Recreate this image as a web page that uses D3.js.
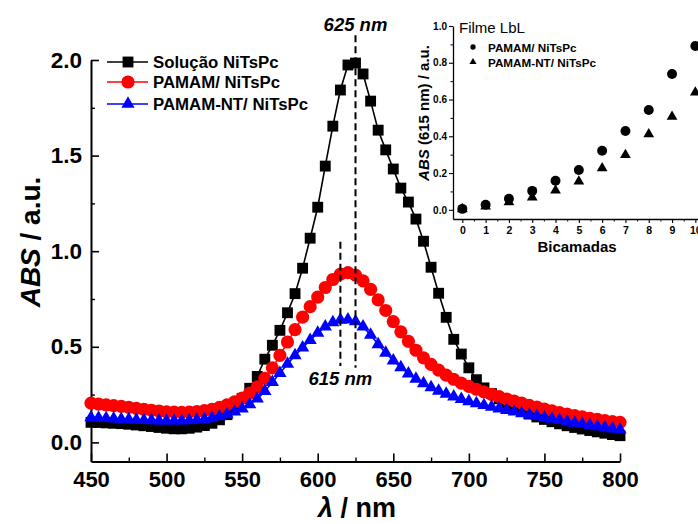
<!DOCTYPE html>
<html>
<head>
<meta charset="utf-8">
<script src="https://cdn.jsdelivr.net/npm/d3@7"></script>
<style>
  html, body { margin: 0; padding: 0; background: #fff; }
  svg { display: block; font-family: "Liberation Sans", Arial, sans-serif; }
</style>
</head>
<body>
<svg id="chart" width="698" height="524"></svg>
<script>
// Wavelength grid (nm)
const wavelengths = [450,455,460,465,470,475,480,485,490,495,500,505,510,515,520,525,530,535,540,545,
  550,555,560,565,570,575,580,585,590,595,600,605,610,615,620,625,630,635,640,645,
  650,655,660,665,670,675,680,685,690,695,700,705,710,715,720,725,730,735,740,745,
  750,755,760,765,770,775,780,785,790,795,800];

// Absorbance spectra
const solucao = [0.105,0.104,0.102,0.100,0.098,0.095,0.091,0.087,0.083,0.078,0.074,0.071,0.071,0.074,0.080,0.088,0.100,0.118,0.145,0.185,
  0.230,0.283,0.345,0.435,0.508,0.586,0.678,0.778,0.911,1.068,1.230,1.445,1.654,1.843,1.974,1.984,1.927,1.785,1.633,1.530,
  1.430,1.330,1.257,1.168,1.052,0.916,0.780,0.654,0.539,0.462,0.390,0.328,0.285,0.255,0.228,0.205,0.185,0.165,0.148,0.133,
  0.120,0.108,0.097,0.087,0.078,0.070,0.062,0.055,0.048,0.041,0.035];
const pamam = [0.205,0.200,0.196,0.192,0.188,0.183,0.178,0.173,0.168,0.164,0.160,0.158,0.157,0.158,0.161,0.166,0.173,0.183,0.196,0.212,
  0.232,0.258,0.290,0.335,0.390,0.455,0.525,0.590,0.655,0.710,0.760,0.810,0.852,0.880,0.888,0.875,0.845,0.800,0.745,0.690,
  0.632,0.578,0.528,0.482,0.442,0.408,0.378,0.352,0.330,0.310,0.293,0.278,0.264,0.251,0.239,0.227,0.216,0.205,0.194,0.184,
  0.174,0.165,0.156,0.148,0.140,0.133,0.126,0.120,0.114,0.109,0.105];
const pamamNT = [0.130,0.128,0.126,0.124,0.122,0.120,0.118,0.116,0.115,0.114,0.113,0.113,0.113,0.115,0.118,0.122,0.128,0.136,0.146,0.160,
  0.176,0.198,0.228,0.268,0.315,0.362,0.410,0.455,0.495,0.535,0.572,0.605,0.628,0.640,0.642,0.632,0.605,0.562,0.512,0.468,
  0.428,0.392,0.360,0.332,0.308,0.287,0.269,0.253,0.239,0.226,0.214,0.204,0.194,0.185,0.176,0.168,0.160,0.152,0.144,0.137,
  0.130,0.123,0.116,0.109,0.102,0.096,0.090,0.084,0.078,0.072,0.067];

const seriesNames = ["Solução NiTsPc", "PAMAM/ NiTsPc", "PAMAM-NT/ NiTsPc"];

// Peak guide lines: wavelength, lower and upper absorbance
const peakWl = [625, 615];
const peakFrom = [0.39, 0.40];
const peakTo = [2.13, 1.05];
const peakLabels = ["625 nm", "615 nm"];

// Inset: absorbance at 615 nm vs number of bilayers
const bilayers = [0,1,2,3,4,5,6,7,8,9,10];
const insetPamam = [0.005,0.027,0.060,0.103,0.158,0.217,0.321,0.429,0.543,0.739,0.891];
const insetPamamNT = [0.004,0.018,0.042,0.067,0.105,0.154,0.226,0.299,0.411,0.507,0.639];
const insetNames = ["PAMAM/ NiTsPc", "PAMAM-NT/ NiTsPc"];

const mainYTicks = [0.0, 0.5, 1.0, 1.5, 2.0];
const mainXTicks = [450, 500, 550, 600, 650, 700, 750, 800];
const insetYTicks = [0.0, 0.2, 0.4, 0.6, 0.8, 1.0];

const svg = d3.select("#chart");
const FONT = "'Liberation Sans', Arial, sans-serif";

// ---------- main plot ----------
const x = d3.scaleLinear().domain([450, 800]).range([91, 620]);
const y = d3.scaleLinear().domain([-0.1, 2.0]).range([461.5, 60]);

const styleAxis = (g, fs) => {
  g.select(".domain").attr("stroke", "#000").attr("stroke-width", 2);
  g.selectAll(".tick line").attr("stroke", "#000").attr("stroke-width", 1.6);
  g.selectAll("text").attr("font-family", FONT).attr("font-weight", "bold")
    .attr("font-size", fs).attr("fill", "#000");
};

// minor ticks
svg.append("g").attr("transform", "translate(0,461.5)")
  .call(d3.axisBottom(x).tickValues(d3.range(475, 800, 50)).tickSize(-4).tickFormat(""))
  .call(g => { g.select(".domain").remove(); g.selectAll("line").attr("stroke", "#000").attr("stroke-width", 1.4); });
svg.append("g").attr("transform", "translate(91,0)")
  .call(d3.axisLeft(y).tickValues([0.25, 0.75, 1.25, 1.75]).tickSize(-4).tickFormat(""))
  .call(g => { g.select(".domain").remove(); g.selectAll("line").attr("stroke", "#000").attr("stroke-width", 1.4); });

svg.append("g").attr("transform", "translate(0,461.5)")
  .call(d3.axisBottom(x).tickValues(mainXTicks).tickSizeInner(-8).tickSizeOuter(0).tickPadding(10).tickFormat(d3.format("d")))
  .call(g => styleAxis(g, 22));
svg.append("g").attr("transform", "translate(91,0)")
  .call(d3.axisLeft(y).tickValues(mainYTicks).tickSizeInner(-8).tickSizeOuter(0).tickPadding(9).tickFormat(d3.format(".1f")))
  .call(g => styleAxis(g, 22.5));

// axis titles
const yTitle = svg.append("text")
  .attr("transform", "translate(40,242) rotate(-90)")
  .attr("text-anchor", "middle").attr("font-family", FONT).attr("font-weight", "bold")
  .attr("font-size", 28).attr("fill", "#000");
yTitle.append("tspan").attr("font-style", "italic").text("ABS");
yTitle.append("tspan").text(" / a.u.");

const xTitle = svg.append("text")
  .attr("x", 357).attr("y", 517)
  .attr("text-anchor", "middle").attr("font-family", FONT).attr("font-weight", "bold")
  .attr("font-size", 27).attr("fill", "#000");
xTitle.append("tspan").attr("font-style", "italic").text("λ");
xTitle.append("tspan").text(" / nm");

// series
const colors = ["#000000", "#ff0000", "#0000ff"];
const symbols = [
  d3.symbol().type(d3.symbolSquare).size(118),
  d3.symbol().type(d3.symbolCircle).size(136),
  d3.symbol().type(d3.symbolTriangle).size(76)
];
const allSeries = [solucao, pamam, pamamNT];

const line = d3.line().x(d => x(d[0])).y(d => y(d[1]));
allSeries.forEach((vals, i) => {
  const pts = wavelengths.map((w, j) => [w, vals[j]]);
  const g = svg.append("g");
  g.append("path").datum(pts).attr("d", line)
    .attr("fill", "none").attr("stroke", colors[i]).attr("stroke-width", 1.6);
  g.selectAll("path.m").data(pts).join("path").attr("class", "m")
    .attr("transform", d => `translate(${x(d[0])},${y(d[1])})`)
    .attr("d", symbols[i]()).attr("fill", colors[i]);
});

// peak guide lines
peakWl.forEach((w, i) => {
  svg.append("line")
    .attr("x1", x(w)).attr("x2", x(w))
    .attr("y1", y(peakTo[i])).attr("y2", y(peakFrom[i]))
    .attr("stroke", "#000").attr("stroke-width", 2).attr("stroke-dasharray", "7,4");
});
svg.append("text").attr("x", x(peakWl[0])).attr("y", 31)
  .attr("text-anchor", "middle").attr("font-family", FONT).attr("font-weight", "bold")
  .attr("font-style", "italic").attr("font-size", 18.5).text(peakLabels[0]);
svg.append("text").attr("x", x(peakWl[1])).attr("y", 385)
  .attr("text-anchor", "middle").attr("font-family", FONT).attr("font-weight", "bold")
  .attr("font-style", "italic").attr("font-size", 18.5).text(peakLabels[1]);

// legend
const legendY = [62, 82, 104];
seriesNames.forEach((name, i) => {
  const g = svg.append("g");
  g.append("line").attr("x1", 107).attr("x2", 148).attr("y1", legendY[i]).attr("y2", legendY[i])
    .attr("stroke", colors[i]).attr("stroke-width", 1.6);
  g.append("path").attr("transform", `translate(128,${legendY[i]})`).attr("d", symbols[i]()).attr("fill", colors[i]);
  g.append("text").attr("x", 153).attr("y", legendY[i] + 6)
    .attr("font-family", FONT).attr("font-weight", "bold").attr("font-size", 16.8).text(name);
});

// ---------- inset ----------
const xi = d3.scaleLinear().domain([-0.4, 10.5]).range([453, 707]);
const yi = d3.scaleLinear().domain([-0.05, 1.0]).range([219, 26]);

svg.append("g").attr("transform", "translate(0,219)")
  .call(d3.axisBottom(xi).tickValues(d3.range(-0.5, 11, 1).filter(v => v > -0.4)).tickSize(2.5).tickFormat(""))
  .call(g => { g.select(".domain").remove(); g.selectAll("line").attr("stroke", "#000").attr("stroke-width", 1); });
svg.append("g").attr("transform", "translate(453,0)")
  .call(d3.axisLeft(yi).tickValues([0.1, 0.3, 0.5, 0.7, 0.9]).tickSize(2.5).tickFormat(""))
  .call(g => { g.select(".domain").remove(); g.selectAll("line").attr("stroke", "#000").attr("stroke-width", 1); });

svg.append("g").attr("transform", "translate(0,219)")
  .call(d3.axisBottom(xi).tickValues(bilayers).tickSizeInner(4).tickSizeOuter(0).tickPadding(4).tickFormat(d3.format("d")))
  .call(g => { styleAxis(g, 10.5); g.select(".domain").attr("stroke-width", 1.3); g.selectAll(".tick line").attr("stroke-width", 1.1); });
svg.append("g").attr("transform", "translate(453,0)")
  .call(d3.axisLeft(yi).tickValues(insetYTicks).tickSizeInner(4).tickSizeOuter(0).tickPadding(2).tickFormat(d3.format(".1f")))
  .call(g => { styleAxis(g, 10); g.select(".domain").attr("stroke-width", 1.3); g.selectAll(".tick line").attr("stroke-width", 1.1); });

svg.append("text").attr("x", 577).attr("y", 252).attr("text-anchor", "middle")
  .attr("font-family", FONT).attr("font-weight", "bold").attr("font-size", 15).text("Bicamadas");

const yiTitle = svg.append("text")
  .attr("transform", "translate(429,113) rotate(-90)")
  .attr("text-anchor", "middle").attr("font-family", FONT).attr("font-weight", "bold")
  .attr("font-size", 15).attr("fill", "#000");
yiTitle.append("tspan").attr("font-style", "italic").text("ABS");
yiTitle.append("tspan").text(" (615 nm) / a.u.");

svg.append("text").attr("x", 459).attr("y", 33)
  .attr("font-family", FONT).attr("font-size", 15).text("Filme LbL");

const insetSymbols = [
  d3.symbol().type(d3.symbolCircle).size(78),
  d3.symbol().type(d3.symbolTriangle).size(50)
];
[insetPamam, insetPamamNT].forEach((vals, i) => {
  svg.append("g").selectAll("path").data(bilayers.map((b, j) => [b, vals[j]])).join("path")
    .attr("transform", d => `translate(${xi(d[0])},${yi(d[1])})`)
    .attr("d", insetSymbols[i]()).attr("fill", "#000");
});

const insetLegendY = [47, 62];
const insetLegendSym = [d3.symbol().type(d3.symbolCircle).size(22), d3.symbol().type(d3.symbolTriangle).size(22)];
insetNames.forEach((name, i) => {
  svg.append("path").attr("transform", `translate(473,${insetLegendY[i]})`).attr("d", insetLegendSym[i]()).attr("fill", "#000");
  svg.append("text").attr("x", 488).attr("y", insetLegendY[i] + 4.5)
    .attr("font-family", FONT).attr("font-weight", "bold").attr("font-size", 11.7).text(name);
});
</script>
</body>
</html>
